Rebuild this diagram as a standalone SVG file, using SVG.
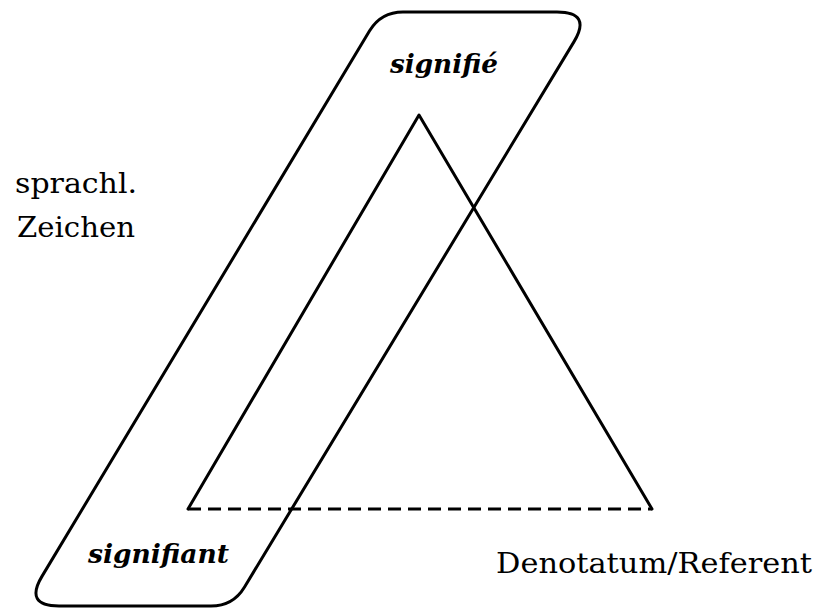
<svg xmlns="http://www.w3.org/2000/svg" width="825" height="611" viewBox="0 0 825 611">
<style>
.ln{fill:none;stroke:#000;stroke-width:3;stroke-linejoin:round;stroke-linecap:round}
.dash{fill:none;stroke:#000;stroke-width:3;stroke-dasharray:13 7}
.lbl{font-family:"DejaVu Serif","Liberation Serif",serif;font-size:27px;fill:#000}
.it{font-family:"DejaVu Serif","Liberation Serif",serif;font-size:26px;font-style:italic;font-weight:bold;fill:#000}
</style>
<rect width="825" height="611" fill="#fff"/>
<g id="zeichen-frame">
<path class="ln" d="M 403 12 L 557 12 Q 592 12 573.9 41.9 L 244.4 587.2 Q 233 606 211 606 L 59 606 Q 24 606 42.1 576.1 L 369.6 30.8 Q 381 12 403 12 Z"/>
</g>
<g id="connectors">
<polyline class="ln" points="188,509 419,115 652,509"/>
<line class="dash" x1="188" y1="509" x2="652" y2="509"/>
</g>
<g id="signifie"><text class="it" x="390" y="73" textLength="108" lengthAdjust="spacingAndGlyphs">signifié</text></g>
<g id="sprachl-zeichen">
<text class="lbl" x="15" y="193" textLength="122" lengthAdjust="spacingAndGlyphs">sprachl.</text>
<text class="lbl" x="17" y="237" textLength="118" lengthAdjust="spacingAndGlyphs">Zeichen</text>
</g>
<g id="signifiant"><text class="it" x="88" y="563" textLength="141" lengthAdjust="spacingAndGlyphs">signifiant</text></g>
<g id="denotatum"><text class="lbl" x="496" y="573" textLength="316" lengthAdjust="spacingAndGlyphs">Denotatum/Referent</text></g>
</svg>
